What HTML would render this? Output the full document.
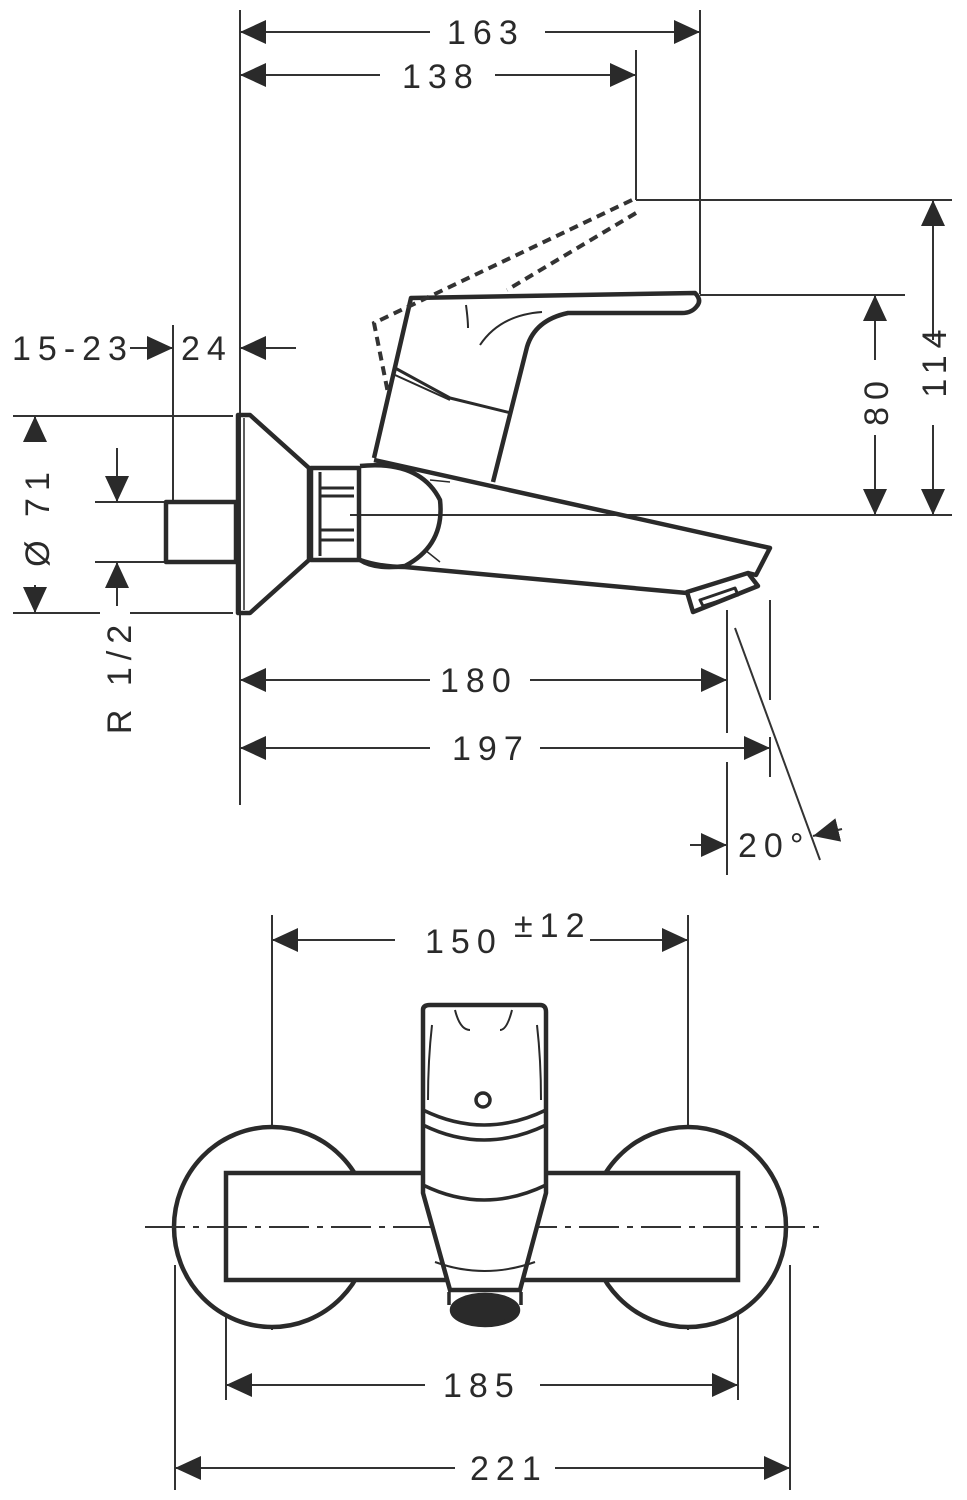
<!DOCTYPE html>
<html><head><meta charset="utf-8"><style>
html,body{margin:0;padding:0;background:#fff;}
svg{display:block;}
text{font-family:"Liberation Sans",sans-serif;font-size:34px;fill:#2a2a2a;letter-spacing:7px;}
</style></head><body>
<svg width="967" height="1500" viewBox="0 0 967 1500" xmlns="http://www.w3.org/2000/svg">
<defs>
<marker id="a" viewBox="0 0 26 26" refX="26" refY="13" markerWidth="26" markerHeight="26" markerUnits="userSpaceOnUse" orient="auto">
<path d="M0,1 L26,13 L0,25 Z" fill="#2a2a2a"/></marker>
</defs>
<g stroke="#333" stroke-width="2" fill="none">
<line x1="240" y1="10" x2="240" y2="805"/>
<line x1="700" y1="10" x2="700" y2="294"/>
<line x1="636" y1="50" x2="636" y2="200"/>
<line x1="636" y1="200" x2="952" y2="200"/>
<line x1="700" y1="295" x2="905" y2="295"/>
<line x1="350" y1="515" x2="952" y2="515"/>
<line x1="173" y1="325" x2="173" y2="502"/>
<line x1="13" y1="416" x2="233" y2="416"/>
<line x1="13" y1="613" x2="100" y2="613"/>
<line x1="130" y1="613" x2="233" y2="613"/>
<line x1="95" y1="502" x2="166" y2="502"/>
<line x1="95" y1="562" x2="166" y2="562"/>
<line x1="727" y1="610" x2="727" y2="733"/>
<line x1="727" y1="762" x2="727" y2="875"/>
<line x1="770" y1="600" x2="770" y2="700"/>
<line x1="770" y1="737" x2="770" y2="777"/>
<line x1="735" y1="628" x2="820" y2="860"/>
<line x1="430" y1="32" x2="240" y2="32" marker-end="url(#a)"/>
<line x1="545" y1="32" x2="700" y2="32" marker-end="url(#a)"/>
<line x1="380" y1="75" x2="240" y2="75" marker-end="url(#a)"/>
<line x1="495" y1="75" x2="636" y2="75" marker-end="url(#a)"/>
<line x1="933" y1="340" x2="933" y2="200" marker-end="url(#a)"/>
<line x1="933" y1="425" x2="933" y2="515" marker-end="url(#a)"/>
<line x1="875" y1="360" x2="875" y2="295" marker-end="url(#a)"/>
<line x1="875" y1="435" x2="875" y2="515" marker-end="url(#a)"/>
<line x1="130" y1="348" x2="173" y2="348" marker-end="url(#a)"/>
<line x1="296" y1="348" x2="240" y2="348" marker-end="url(#a)"/>
<line x1="35" y1="440" x2="35" y2="416" marker-end="url(#a)"/>
<line x1="35" y1="585" x2="35" y2="613" marker-end="url(#a)"/>
<line x1="117" y1="448" x2="117" y2="502" marker-end="url(#a)"/>
<line x1="117" y1="606" x2="117" y2="562" marker-end="url(#a)"/>
<line x1="430" y1="680" x2="240" y2="680" marker-end="url(#a)"/>
<line x1="530" y1="680" x2="727" y2="680" marker-end="url(#a)"/>
<line x1="430" y1="748" x2="240" y2="748" marker-end="url(#a)"/>
<line x1="540" y1="748" x2="770" y2="748" marker-end="url(#a)"/>
<line x1="690" y1="845" x2="727" y2="845" marker-end="url(#a)"/>
<line x1="842" y1="829" x2="813" y2="836" marker-end="url(#a)"/>
</g>
<g stroke="#2a2a2a" stroke-width="4.5" fill="none" stroke-linejoin="round">
<rect x="166" y="502" width="70" height="60"/>
<path d="M238,415 L250,415 L309,468 L309,560 L250,613 L238,613 Z"/>
<line x1="244" y1="418" x2="244" y2="610" stroke-width="1.5"/>
<rect x="311" y="468" width="48" height="92"/>
<path d="M320,472 V556 M320,488 H354 M320,496 H354 M320,530 H354 M320,540 H354" stroke-width="3"/>
<path d="M360,466 Q420,460 440,500 Q445,545 405,566 Q375,570 360,560"/>
<path d="M374,460 L770,548 L756,575 L748,573"/>
<path d="M360,560 Q380,567 405,567 L687,593"/>
<path d="M687,592 L748,573 L758,586 L693,612 Z"/>
<path d="M700,600 L735,588 L738,595 L703,606 Z" stroke-width="3"/>
<path d="M374,458 L411,298 L695,293 Q702,300 697,306 Q692,313 682,313 L568,313 Q535,320 527,347 L493,482"/>
<path d="M395,368 L450,398 L511,413" stroke-width="3"/>
<path d="M395,375 L450,400" stroke-width="2"/>
<path d="M466,305 Q468,320 468,328 M480,345 Q500,315 542,312" stroke-width="2"/>
<path d="M430,480 L450,482 M425,550 L440,562" stroke-width="1.5"/>
</g>
<g stroke="#333" stroke-width="4" fill="none" stroke-dasharray="9,6">
<path d="M632,200 L374,323 L388,393"/>
<path d="M636,213 L507,290"/>
</g>
<text x="447" y="44">163</text>
<text x="402" y="88">138</text>
<text x="12" y="360">15-23</text>
<text x="181" y="360">24</text>
<text x="440" y="692">180</text>
<text x="452" y="760">197</text>
<text x="738" y="857" letter-spacing="4">20°</text>
<text transform="translate(946,360) rotate(-90)" text-anchor="middle">114</text>
<text transform="translate(888,400) rotate(-90)" text-anchor="middle">80</text>
<text transform="translate(49,516) rotate(-90)" text-anchor="middle">Ø 71</text>
<text transform="translate(131,676) rotate(-90)" text-anchor="middle">R 1/2</text>

<g stroke="#333" stroke-width="2" fill="none">
<line x1="272" y1="915" x2="272" y2="1330"/>
<line x1="688" y1="915" x2="688" y2="1330"/>
<line x1="226" y1="1265" x2="226" y2="1400"/>
<line x1="738" y1="1265" x2="738" y2="1400"/>
<line x1="175" y1="1265" x2="175" y2="1490"/>
<line x1="790" y1="1265" x2="790" y2="1490"/>
<line x1="395" y1="940" x2="272" y2="940" marker-end="url(#a)"/>
<line x1="590" y1="940" x2="688" y2="940" marker-end="url(#a)"/>
<line x1="425" y1="1385" x2="226" y2="1385" marker-end="url(#a)"/>
<line x1="540" y1="1385" x2="738" y2="1385" marker-end="url(#a)"/>
<line x1="455" y1="1468" x2="175" y2="1468" marker-end="url(#a)"/>
<line x1="555" y1="1468" x2="790" y2="1468" marker-end="url(#a)"/>
</g>
<g stroke="#2a2a2a" stroke-width="4.5" fill="#fff">
<ellipse cx="272" cy="1227" rx="98" ry="100"/>
<ellipse cx="688" cy="1227" rx="98" ry="100"/>
<rect x="226" y="1173" width="512" height="107"/>
</g>
<line x1="145" y1="1227" x2="820" y2="1227" stroke="#333" stroke-width="2" stroke-dasharray="40,8,6,8"/>
<g stroke="#2a2a2a" stroke-width="4.5" fill="none">
<path d="M423,1010 Q423,1005 430,1005 L540,1005 Q546,1005 546,1012 L546,1193 L520,1290 L450,1290 L423,1193 Z" fill="#fff"/>
<path d="M423,1110 Q484,1140 546,1110 M423,1125 Q484,1155 546,1125" stroke-width="3.5"/>
<path d="M423,1185 Q484,1215 546,1185" stroke-width="3.5"/>
<circle cx="483" cy="1100" r="7" stroke-width="3.5"/>
<path d="M432,1025 Q428,1060 428,1100 M537,1025 Q541,1060 541,1100 M455,1010 Q460,1030 470,1030 M512,1010 Q507,1030 500,1030" stroke-width="2"/>
<path d="M435,1262 Q484,1280 535,1262" stroke-width="2"/>
<ellipse cx="485" cy="1310" rx="33" ry="15" fill="#2a2a2a"/>
<path d="M449,1292 L449,1305 M521,1292 L521,1305" stroke-width="3.5"/>
</g>
<text x="425" y="953">150</text>
<text x="514" y="937" font-size="24" letter-spacing="3">±12</text>
<text x="443" y="1397">185</text>
<text x="470" y="1480">221</text>
</svg>
</body></html>
